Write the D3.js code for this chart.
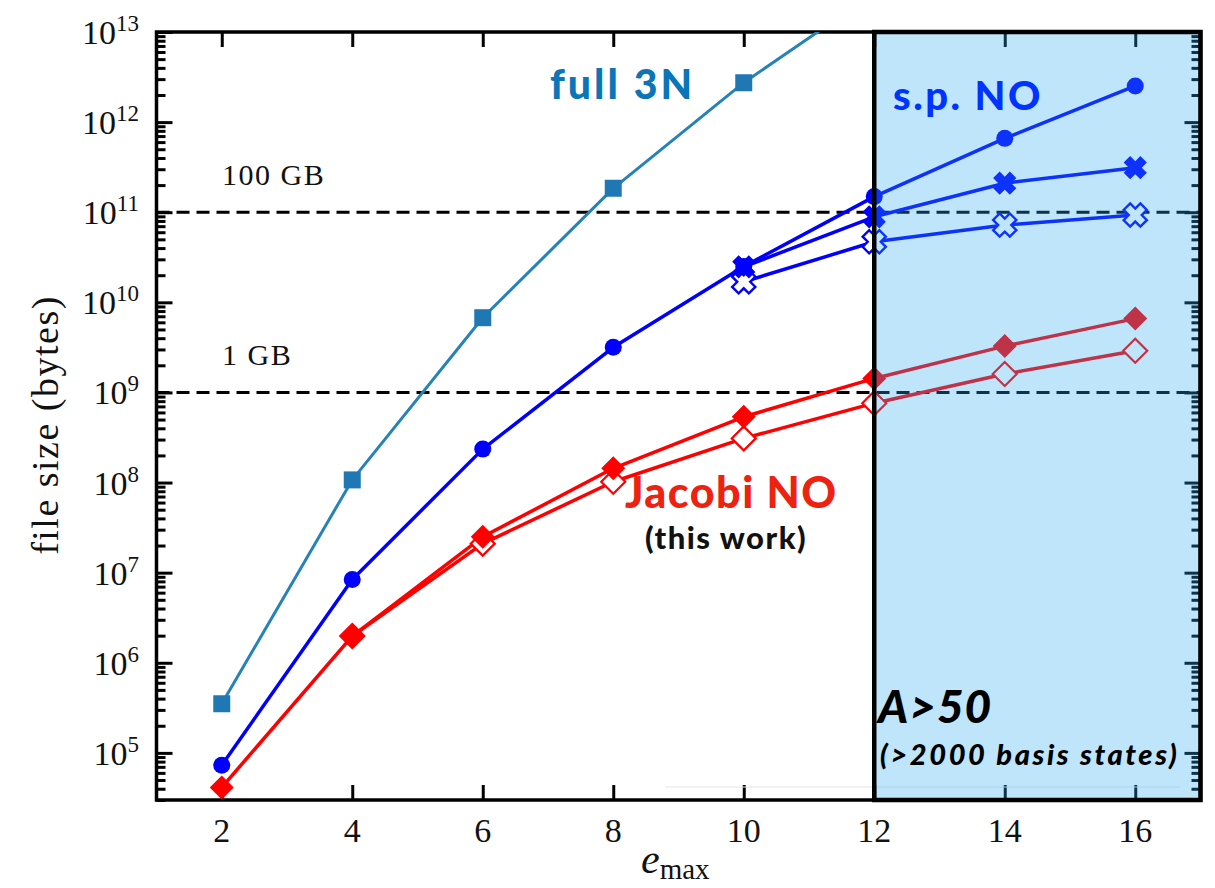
<!DOCTYPE html>
<html>
<head>
<meta charset="utf-8">
<script src="https://cdn.jsdelivr.net/npm/d3@7"></script>
<style>
  html, body { margin: 0; padding: 0; background: #fff; }
  svg { display: block; }
</style>
</head>
<body>
<svg id="chart" width="1215" height="888"></svg>
<script>
// ---- data: file size (bytes) vs e_max ----
const emax = [2, 4, 6, 8, 10, 12, 14, 16];
const xTicks = [2, 4, 6, 8, 10, 12, 14, 16];
const yDecades = [5, 6, 7, 8, 9, 10, 11, 12, 13];

const full3N_e = [2, 4, 6, 8, 10, 12];
const full3N   = [3.5e5, 1.07e8, 6.75e9, 1.84e11, 2.74e12, 2.7e13];

const spCircle_e = [2, 4, 6, 8, 10, 12, 14, 16];
const spCircle   = [7.3e4, 8.4e6, 2.35e8, 3.17e9, 2.5e10, 1.49e11, 6.6e11, 2.52e12];

const spFilledX_e = [10, 12, 14, 16];
const spFilledX   = [2.48e10, 8.9e10, 2.1e11, 3.12e11];

const spOpenX_e = [10, 12, 14, 16];
const spOpenX   = [1.69e10, 4.7e10, 7.2e10, 9.3e10];

const jacFilled_e = [2, 4, 6, 8, 10, 12, 14, 16];
const jacFilled   = [4.14e4, 1.98e6, 2.5e7, 1.44e8, 5.37e8, 1.43e9, 3.27e9, 6.6e9];

const jacOpen_e = [4, 6, 8, 10, 12, 14, 16];
const jacOpen   = [1.98e6, 2.1e7, 1.02e8, 3.09e8, 7.6e8, 1.6e9, 2.9e9];

const refLines = [1e11, 1e9];
const refLabels = ["100 GB", "1 GB"];

// ---- scales ----
const svg = d3.select("#chart");
const x = d3.scaleLinear().domain([1, 17]).range([156.5, 1200.5]);
const y = d3.scaleLog().domain([3e4, 1e13]).range([800, 32]);
const X0 = x.range()[0], X1 = x.range()[1], Y0 = y.range()[1], Y1 = y.range()[0];

const serif = "'Liberation Serif', 'DejaVu Serif', serif";
const sans = "Lato, 'Open Sans', sans-serif";

svg.append("defs").append("clipPath").attr("id", "plotclip")
  .append("rect").attr("x", X0).attr("y", Y0).attr("width", X1 - X0).attr("height", Y1 - Y0);

// ---- reference lines ----
const refG = svg.append("g");
refLines.forEach((v, i) => {
  refG.append("line")
    .attr("x1", X0).attr("x2", X1).attr("y1", y(v)).attr("y2", y(v))
    .attr("stroke", "#000").attr("stroke-width", 3).attr("stroke-dasharray", "13,7");
  refG.append("text")
    .attr("x", 222).attr("y", y(v) - 27)
    .attr("font-family", serif).attr("font-size", 30).attr("letter-spacing", 1.5)
    .attr("fill", "#111")
    .text(refLabels[i]);
});

// ---- axes (ticks point inward on all four sides) ----
const minorVals = [];
for (let e = 4; e <= 12; e++) for (let m = 2; m <= 9; m++) {
  const v = m * Math.pow(10, e);
  if (v >= 3e4 && v <= 1e13) minorVals.push(v);
}
const majorVals = yDecades.map(d => Math.pow(10, d));

function styleAxis(g) {
  g.select(".domain").remove();
  g.selectAll(".tick line").attr("stroke", "#000").attr("stroke-width", 3);
}
svg.append("g").attr("transform", `translate(${X0},0)`)
  .call(d3.axisLeft(y).tickValues(minorVals).tickSize(-9).tickFormat("")).call(styleAxis);
svg.append("g").attr("transform", `translate(${X0},0)`)
  .call(d3.axisLeft(y).tickValues(majorVals).tickSize(-16).tickFormat("")).call(styleAxis);
svg.append("g").attr("transform", `translate(${X1},0)`)
  .call(d3.axisRight(y).tickValues(minorVals).tickSize(-9).tickFormat("")).call(styleAxis);
svg.append("g").attr("transform", `translate(${X1},0)`)
  .call(d3.axisRight(y).tickValues(majorVals).tickSize(-16).tickFormat("")).call(styleAxis);
svg.append("g").attr("transform", `translate(0,${Y1})`)
  .call(d3.axisBottom(x).tickValues(xTicks).tickSize(-15).tickFormat("")).call(styleAxis);
svg.append("g").attr("transform", `translate(0,${Y0})`)
  .call(d3.axisTop(x).tickValues(xTicks).tickSize(-15).tickFormat("")).call(styleAxis);

// frame
svg.append("rect").attr("x", X0).attr("y", Y0).attr("width", X1 - X0).attr("height", Y1 - Y0)
  .attr("fill", "none").attr("stroke", "#000").attr("stroke-width", 3.5);

// faint rule near the bottom of the frame
svg.append("line").attr("x1", 665).attr("x2", 1180).attr("y1", 787).attr("y2", 787)
  .attr("stroke", "#e4e4e4").attr("stroke-width", 1);

// tick labels
svg.append("g").selectAll("text").data(xTicks).join("text")
  .attr("x", d => x(d)).attr("y", 842).attr("text-anchor", "middle")
  .attr("font-family", serif).attr("font-size", 34).attr("fill", "#111")
  .text(d => d);

const yl = svg.append("g").selectAll("text").data(yDecades).join("text")
  .attr("x", 139).attr("y", d => y(Math.pow(10, d)) + 12).attr("text-anchor", "end")
  .attr("font-family", serif).attr("font-size", 34).attr("fill", "#111");
yl.append("tspan").text("10");
yl.append("tspan").attr("dy", -13).attr("font-size", 23).text(d => d);

// axis titles
svg.append("text")
  .attr("transform", "translate(58,425) rotate(-90)").attr("text-anchor", "middle")
  .attr("font-family", serif).attr("font-size", 38).attr("letter-spacing", 1.5)
  .attr("fill", "#111")
  .text("file size (bytes)");
const xt = svg.append("text").attr("x", 641).attr("y", 873)
  .attr("font-family", serif).attr("font-size", 42).attr("fill", "#111");
xt.append("tspan").attr("font-style", "italic").text("e");
xt.append("tspan").attr("dy", 6).attr("font-size", 29).text("max");

// ---- series ----
const plot = svg.append("g").attr("clip-path", "url(#plotclip)");
const line = d3.line().x(d => x(d[0])).y(d => y(d[1]));
const pts = (es, vs) => es.map((e, i) => [e, vs[i]]);

const blue = "#0000ff", red = "#ff0000", teal = "#1f77b4";

function drawLine(data, color, width) {
  plot.append("path").datum(data).attr("d", line)
    .attr("fill", "none").attr("stroke", color).attr("stroke-width", width)
    .attr("stroke-linejoin", "round");
}

const diamond = "M0,-12L12,0L0,12L-12,0Z";
const square = "M-8.5,-8.5H8.5V8.5H-8.5Z";
const xShape = (() => {
  const a = 11.8, b = 4.6;
  const p = [[-b,-a],[b,-a],[b,-b],[a,-b],[a,b],[b,b],[b,a],[-b,a],[-b,b],[-a,b],[-a,-b],[-b,-b]];
  const r = p.map(([u, v]) => [(u - v) / Math.SQRT2, (u + v) / Math.SQRT2]);
  return "M" + r.map(q => q[0].toFixed(2) + "," + q[1].toFixed(2)).join("L") + "Z";
})();

function drawMarkers(data, shape, fill, stroke, sw) {
  plot.append("g").selectAll("path").data(data).join("path")
    .attr("transform", d => `translate(${x(d[0])},${y(d[1])})`)
    .attr("d", shape).attr("fill", fill).attr("stroke", stroke).attr("stroke-width", sw);
}

// full 3N
const f3 = pts(full3N_e, full3N);
drawLine(f3, "#2683b8", 3);
drawMarkers(f3, square, teal, "none", 0);

// single-particle NO
const spc = pts(spCircle_e, spCircle), spf = pts(spFilledX_e, spFilledX), spo = pts(spOpenX_e, spOpenX);
drawLine(spo, blue, 3.5);
drawLine(spf, blue, 3.5);
drawLine(spc, blue, 3.5);
plot.append("g").selectAll("circle").data(spc).join("circle")
  .attr("cx", d => x(d[0])).attr("cy", d => y(d[1])).attr("r", 8.5).attr("fill", blue);
drawMarkers(spo, xShape, "#fff", blue, 2.4);
drawMarkers(spf, xShape, blue, "none", 0);

// Jacobi NO
const jf = pts(jacFilled_e, jacFilled), jo = pts(jacOpen_e, jacOpen);
drawLine(jo, red, 3.5);
drawLine(jf, red, 3.5);
drawMarkers(jo, diamond, "#fff", red, 2.2);
drawMarkers(jf, diamond, red, "none", 0);

// ---- A > 50 region ----
svg.append("rect")
  .attr("x", x(12)).attr("y", Y0).attr("width", X1 - x(12)).attr("height", Y1 - Y0)
  .attr("fill", "rgb(42,168,241)").attr("fill-opacity", 0.3);
svg.append("rect")
  .attr("x", x(12)).attr("y", Y0).attr("width", X1 - x(12)).attr("height", Y1 - Y0)
  .attr("fill", "none").attr("stroke", "#000").attr("stroke-width", 4.5);

// ---- annotations ----
function label(txt, px, py, size, color, italic) {
  return svg.append("text").attr("x", px).attr("y", py)
    .attr("font-family", sans).attr("font-weight", 900).attr("font-size", size)
    .attr("font-style", italic ? "italic" : "normal").attr("fill", color).text(txt);
}
label("full 3N", 550, 99, 41, "#0a76b8", false).attr("letter-spacing", 3);
label("s.p. NO", 893, 110, 40, "#0033ff", false).attr("letter-spacing", 2.5);
label("Jacobi NO", 625, 508, 43, "#ee2211", false).attr("letter-spacing", 1.5);
label("(this work)", 645, 549, 31, "#111", false).attr("letter-spacing", 1.5);
label("A>50", 878, 723, 46, "#000", true).attr("letter-spacing", 1);
label("(>2000 basis states)", 880, 765, 29, "#000", true).attr("letter-spacing", 2.6);
</script>
</body>
</html>
